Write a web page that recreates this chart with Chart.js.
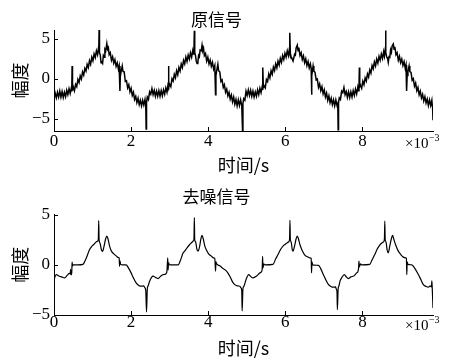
<!DOCTYPE html>
<html>
<head>
<meta charset="utf-8">
<script src="https://cdn.jsdelivr.net/npm/chart.js@4.4.1/dist/chart.umd.min.js"></script>
<style>
  html, body { margin: 0; padding: 0; background: #fff; }
  #wrap { position: relative; width: 455px; height: 362px; }
  .panel { position: absolute; left: 0; width: 455px; height: 181px; }
</style>
</head>
<body>
<div id="wrap">
  <div class="panel" style="top:0"><canvas id="c1" width="455" height="181"></canvas></div>
  <div class="panel" style="top:181px"><canvas id="c2" width="455" height="181"></canvas></div>
</div>
<script>
// ---- Data (time in units of 1e-3 s, amplitude) ----
const xTickValues = [0, 2, 4, 6, 8];
const yTickValues = [-5, 0, 5];
const topTitle = '原信号';
const bottomTitle = '去噪信号';
const xAxisLabel = '时间/s';
const yAxisLabel = '幅度';

const originalSignal = [
[0.00,-2.5],[0.03,-1.8],[0.06,-2.4],[0.09,-1.7],[0.12,-2.3],[0.15,-1.55],[0.18,-2.3],[0.21,-1.6],[0.24,-2.35],[0.27,-1.7],
[0.30,-2.25],[0.33,-1.45],[0.36,-2.0],[0.39,-1.25],[0.42,-1.85],[0.45,-1.15],[0.46,-1.6],[0.47,1.6],[0.48,-1.5],[0.50,-1.0],
[0.53,-1.5],[0.56,-0.7],[0.59,-1.0],[0.62,-0.1],[0.65,-0.5],[0.68,0.35],[0.71,-0.05],[0.74,0.85],[0.77,0.45],[0.80,1.3],
[0.83,0.95],[0.86,1.8],[0.89,1.4],[0.92,2.25],[0.95,1.8],[0.98,2.7],[1.01,2.25],[1.04,3.1],[1.07,2.65],[1.10,3.5],
[1.13,3.0],[1.15,3.7],[1.16,3.4],[1.17,6.1],[1.18,3.2],[1.20,3.0],[1.22,2.0],[1.24,2.05],[1.26,1.9],[1.28,2.9],
[1.30,2.7],[1.32,3.65],[1.34,3.45],[1.37,4.4],[1.39,3.7],[1.41,3.9],[1.43,3.0],[1.46,3.25],[1.49,2.3],[1.52,2.75],
[1.55,1.95],[1.58,2.4],[1.61,1.55],[1.64,2.0],[1.67,1.2],[1.69,1.6],[1.71,-1.55],[1.72,0.3],[1.74,0.9],[1.77,1.6],
[1.79,0.9],[1.82,0.85],[1.85,-0.35],[1.88,-0.25],[1.91,-1.15],[1.94,-0.75],[1.97,-1.65],[2.00,-1.2],[2.03,-2.1],[2.06,-1.7],
[2.09,-2.6],[2.12,-2.2],[2.15,-3.0],[2.18,-2.45],[2.21,-3.25],[2.24,-2.7],[2.27,-3.4],[2.30,-2.7],[2.33,-3.3],[2.36,-2.6],
[2.38,-3.3],[2.39,-6.3],[2.40,-3.0],[2.42,-2.3],[2.45,-2.6],[2.48,-1.65],[2.51,-1.95],[2.54,-1.25],[2.57,-2.0],[2.60,-1.45],
[2.63,-2.2],[2.66,-1.55],[2.69,-2.2],[2.72,-1.5],[2.75,-2.2],[2.78,-1.5],[2.81,-2.15],[2.84,-1.4],[2.87,-1.95],[2.90,-1.15],
[2.93,-1.7],[2.95,-1.0],[2.96,-1.3],[2.97,1.6],[2.98,-1.1],[3.00,-0.7],[3.03,-1.0],[3.06,0.0],[3.09,-0.3],[3.12,0.55],
[3.15,0.1],[3.18,1.0],[3.21,0.5],[3.24,1.4],[3.27,0.95],[3.30,1.85],[3.33,1.4],[3.36,2.3],[3.39,1.85],[3.42,2.7],
[3.45,2.15],[3.48,2.95],[3.51,2.45],[3.54,3.25],[3.57,2.7],[3.60,3.55],[3.62,3.1],[3.63,3.6],[3.64,6.0],[3.65,3.3],
[3.67,2.9],[3.69,2.2],[3.71,1.9],[3.73,2.0],[3.75,2.9],[3.77,2.75],[3.79,3.6],[3.82,3.5],[3.84,4.2],[3.86,3.5],
[3.88,3.75],[3.90,2.9],[3.93,3.15],[3.96,2.2],[3.99,2.7],[4.02,1.85],[4.05,2.35],[4.08,1.55],[4.11,2.05],[4.14,1.2],
[4.17,1.65],[4.19,-2.0],[4.20,0.4],[4.22,1.0],[4.25,1.8],[4.27,1.0],[4.30,0.85],[4.33,-0.35],[4.36,-0.15],[4.39,-1.1],
[4.42,-0.75],[4.45,-1.7],[4.48,-1.3],[4.51,-2.15],[4.54,-1.7],[4.57,-2.55],[4.60,-2.05],[4.63,-2.9],[4.66,-2.3],[4.69,-3.2],
[4.72,-2.6],[4.75,-3.4],[4.78,-2.65],[4.81,-3.35],[4.84,-2.65],[4.87,-3.4],[4.89,-6.5],[4.90,-3.1],[4.92,-2.5],[4.95,-2.7],
[4.98,-1.55],[5.01,-2.1],[5.04,-1.4],[5.07,-2.1],[5.10,-1.45],[5.13,-2.2],[5.16,-1.55],[5.19,-2.3],[5.22,-1.65],[5.25,-2.2],
[5.28,-1.4],[5.31,-2.0],[5.34,-1.2],[5.37,-1.75],[5.40,-1.0],[5.41,-1.4],[5.42,1.4],[5.43,-1.1],[5.45,-0.9],[5.48,-1.15],
[5.51,-0.1],[5.54,-0.35],[5.57,0.6],[5.60,0.1],[5.63,1.0],[5.66,0.55],[5.69,1.45],[5.72,1.0],[5.75,1.85],[5.78,1.35],
[5.81,2.2],[5.84,1.7],[5.87,2.55],[5.90,2.05],[5.93,2.9],[5.96,2.4],[5.99,3.2],[6.02,2.7],[6.05,3.5],[6.08,2.9],
[6.10,3.55],[6.11,3.2],[6.12,5.75],[6.13,3.2],[6.15,2.7],[6.17,2.55],[6.20,2.2],[6.22,2.2],[6.24,3.05],[6.26,2.95],
[6.28,3.85],[6.31,4.2],[6.33,3.5],[6.35,3.9],[6.38,2.9],[6.41,3.25],[6.44,2.4],[6.47,2.85],[6.50,2.0],[6.53,2.5],
[6.56,1.65],[6.59,2.15],[6.62,1.35],[6.65,1.85],[6.67,1.3],[6.68,-2.0],[6.69,0.4],[6.70,0.9],[6.72,1.6],[6.74,0.95],
[6.77,0.8],[6.80,-0.15],[6.83,-0.05],[6.86,-1.1],[6.89,-0.65],[6.92,-1.5],[6.95,-1.0],[6.98,-1.9],[7.01,-1.4],[7.04,-2.3],
[7.07,-1.8],[7.10,-2.7],[7.13,-2.15],[7.16,-3.0],[7.19,-2.45],[7.22,-3.25],[7.25,-2.65],[7.28,-3.4],[7.31,-2.65],[7.34,-3.35],
[7.36,-3.1],[7.37,-6.4],[7.38,-3.0],[7.40,-2.4],[7.43,-2.6],[7.46,-1.55],[7.49,-1.75],[7.52,-1.1],[7.55,-2.0],[7.58,-1.6],
[7.61,-2.35],[7.64,-1.65],[7.67,-2.35],[7.70,-1.65],[7.73,-2.3],[7.76,-1.5],[7.79,-2.1],[7.82,-1.3],[7.85,-1.9],[7.88,-1.05],
[7.90,-1.5],[7.91,-1.2],[7.92,1.4],[7.93,-1.0],[7.95,-0.8],[7.98,-1.2],[8.01,-0.3],[8.04,-0.75],[8.07,0.1],[8.10,-0.3],
[8.13,0.6],[8.16,0.2],[8.19,1.1],[8.22,0.7],[8.25,1.65],[8.28,1.25],[8.31,2.1],[8.34,1.6],[8.37,2.45],[8.40,1.95],
[8.43,2.8],[8.46,2.3],[8.49,3.1],[8.52,2.55],[8.55,3.4],[8.57,2.85],[8.59,3.6],[8.60,6.05],[8.61,3.3],[8.63,2.7],
[8.65,2.6],[8.67,2.05],[8.69,2.75],[8.71,2.7],[8.73,3.6],[8.75,3.3],[8.77,4.1],[8.80,4.35],[8.82,3.7],[8.84,4.0],
[8.87,3.0],[8.90,3.25],[8.93,2.3],[8.96,2.8],[8.99,2.0],[9.02,2.45],[9.05,1.65],[9.08,2.15],[9.11,1.3],[9.13,1.7],
[9.14,1.3],[9.15,-1.55],[9.16,0.4],[9.18,0.9],[9.21,1.6],[9.23,0.9],[9.26,0.8],[9.29,-0.2],[9.32,0.0],[9.35,-0.95],
[9.38,-0.55],[9.41,-1.5],[9.44,-1.1],[9.47,-2.0],[9.50,-1.55],[9.53,-2.4],[9.56,-1.95],[9.59,-2.8],[9.62,-2.25],[9.65,-3.05],
[9.68,-2.55],[9.71,-3.35],[9.74,-2.65],[9.77,-3.35],[9.80,-2.7],[9.81,-3.3],[9.82,-3.6],[9.83,-5.2]
];

const denoisedSignal = [
[0.00,-1.6],[0.02,-1.25],[0.06,-0.97],[0.10,-1.05],[0.14,-1.13],[0.20,-1.2],[0.27,-1.3],[0.32,-1.15],[0.36,-0.97],[0.40,-0.85],
[0.42,-0.88],[0.43,-0.45],[0.44,-1.0],[0.46,-0.8],[0.47,0.27],[0.48,-0.1],[0.50,0.0],[0.62,0.0],[0.75,0.05],[0.80,0.35],
[0.84,0.7],[0.88,1.1],[0.92,1.5],[0.98,1.85],[1.05,2.1],[1.10,2.3],[1.14,2.4],[1.15,2.6],[1.16,4.4],[1.17,2.5],
[1.19,2.2],[1.23,1.5],[1.26,1.35],[1.30,1.9],[1.34,2.6],[1.37,2.87],[1.40,2.6],[1.44,1.9],[1.49,1.37],[1.55,1.1],
[1.62,0.87],[1.67,0.72],[1.69,0.7],[1.70,-0.15],[1.71,0.4],[1.73,0.05],[1.78,0.0],[1.87,0.0],[1.93,-0.3],[2.00,-0.8],
[2.06,-1.3],[2.13,-1.8],[2.20,-2.05],[2.26,-2.13],[2.32,-2.1],[2.36,-2.3],[2.38,-2.6],[2.40,-4.7],[2.42,-2.4],[2.44,-2.1],
[2.48,-1.63],[2.53,-1.25],[2.57,-1.13],[2.63,-1.25],[2.70,-1.37],[2.76,-1.15],[2.83,-0.97],[2.88,-0.95],[2.91,-0.85],[2.93,-0.6],
[2.95,0.7],[2.96,-0.5],[2.97,0.2],[3.00,0.0],[3.22,0.0],[3.28,0.45],[3.35,1.2],[3.39,1.37],[3.45,1.7],[3.52,2.03],
[3.58,2.25],[3.61,2.37],[3.63,2.6],[3.64,4.7],[3.65,2.5],[3.67,2.3],[3.71,1.5],[3.74,1.37],[3.78,1.9],[3.81,2.6],
[3.84,2.93],[3.87,2.6],[3.91,1.9],[3.95,1.5],[4.01,1.1],[4.08,0.87],[4.14,0.7],[4.17,0.65],[4.19,-0.63],[4.20,0.3],
[4.22,0.1],[4.30,-0.1],[4.38,-0.35],[4.47,-0.6],[4.56,-1.13],[4.63,-1.7],[4.69,-1.97],[4.76,-2.1],[4.82,-2.13],[4.85,-2.3],
[4.87,-2.6],[4.88,-4.6],[4.90,-2.4],[4.93,-2.1],[4.98,-1.47],[5.05,-0.97],[5.10,-1.15],[5.16,-1.3],[5.25,-1.13],[5.34,-0.8],
[5.38,-0.7],[5.40,-0.4],[5.41,0.85],[5.42,-0.3],[5.44,0.1],[5.47,0.0],[5.68,0.05],[5.75,0.6],[5.81,1.03],[5.88,1.55],
[5.94,1.87],[6.00,2.05],[6.05,2.2],[6.09,2.3],[6.11,2.6],[6.12,4.43],[6.13,2.5],[6.15,2.3],[6.18,1.5],[6.20,1.37],
[6.24,1.9],[6.28,2.6],[6.31,2.87],[6.34,2.6],[6.38,2.0],[6.44,1.4],[6.51,0.95],[6.58,0.8],[6.64,0.7],[6.67,0.65],
[6.68,-0.8],[6.69,0.3],[6.71,0.0],[6.86,-0.05],[6.92,-0.4],[6.99,-1.0],[7.05,-1.5],[7.12,-1.97],[7.18,-2.15],[7.25,-2.23],
[7.30,-2.2],[7.32,-2.4],[7.34,-2.7],[7.35,-4.47],[7.37,-2.4],[7.39,-2.1],[7.42,-1.6],[7.46,-1.3],[7.53,-0.97],[7.58,-1.2],
[7.63,-1.37],[7.70,-1.2],[7.78,-1.1],[7.85,-0.8],[7.88,-0.7],[7.90,-0.3],[7.91,0.37],[7.92,-0.2],[7.95,0.1],[7.98,0.0],
[8.19,0.05],[8.25,0.5],[8.32,1.03],[8.38,1.55],[8.43,1.87],[8.51,2.2],[8.55,2.3],[8.57,2.6],[8.58,4.37],[8.59,2.5],
[8.61,2.3],[8.64,1.5],[8.67,1.2],[8.71,1.9],[8.75,2.6],[8.78,2.93],[8.81,2.6],[8.86,2.0],[8.93,1.37],[9.00,1.0],
[9.06,0.77],[9.12,0.7],[9.14,0.65],[9.15,-0.97],[9.16,0.3],[9.18,0.05],[9.28,0.0],[9.35,-0.3],[9.45,-0.97],[9.52,-1.5],
[9.58,-1.97],[9.65,-2.15],[9.71,-2.23],[9.76,-2.1],[9.79,-2.2],[9.80,-1.6],[9.81,-2.3],[9.83,-4.3]
];

// ---- Rendering ----
const SERIF = '"Liberation Serif", "Times New Roman", Times, serif';
const CJK = '"Noto Sans CJK SC", "Noto Sans CJK JP", sans-serif';
Chart.defaults.font.family = SERIF;
Chart.defaults.color = '#000';

function fmt(v) { return v < 0 ? '\u2212' + Math.abs(v) : String(v); }

const axisDecor = {
  id: 'axisDecor',
  afterDraw(chart, args, opts) {
    const {ctx, chartArea: a, scales: {x, y}} = chart;
    ctx.save();
    ctx.strokeStyle = '#000';
    ctx.lineWidth = 1;
    ctx.beginPath();
    xTickValues.forEach(v => {
      const px = Math.round(x.getPixelForValue(v)) + 0.5;
      ctx.moveTo(px, a.bottom); ctx.lineTo(px, a.bottom - 4);
    });
    yTickValues.forEach(v => {
      const py = Math.round(y.getPixelForValue(v)) + 0.5;
      ctx.moveTo(a.left, py); ctx.lineTo(a.left + 4, py);
    });
    ctx.stroke();
    ctx.fillStyle = '#000';
    ctx.textBaseline = 'alphabetic';
    ctx.textAlign = 'left';
    ctx.font = '15px ' + SERIF;
    const ex = a.right - 28, ey = a.bottom + opts.expY;
    ctx.fillText('\u00d710', ex, ey);
    const w = ctx.measureText('\u00d710').width;
    ctx.font = '10px ' + SERIF;
    ctx.fillText('\u22123', ex + w + 0.5, ey - 7);
    ctx.restore();
  }
};

function makeChart(id, points, cfg) {
  return new Chart(document.getElementById(id), {
    type: 'line',
    data: {
      datasets: [{
        data: points.map(p => ({x: p[0], y: p[1]})),
        borderColor: '#000',
        borderWidth: cfg.lineWidth,
        pointRadius: 0,
        fill: false,
        tension: 0,
        cubicInterpolationMode: cfg.mono ? 'monotone' : 'default'
      }]
    },
    options: {
      responsive: false,
      animation: false,
      events: [],
      layout: { padding: { left: 0, right: 22, top: 0, bottom: 0 } },
      plugins: {
        legend: { display: false },
        tooltip: { enabled: false },
        title: {
          display: true,
          text: cfg.title,
          color: '#000',
          font: { family: CJK, size: 17, weight: 'normal', lineHeight: 1.2 },
          padding: { top: cfg.titleTop, bottom: cfg.titleBottom }
        },
        axisDecor: { expY: cfg.expY }
      },
      scales: {
        x: {
          type: 'linear',
          min: 0,
          max: 9.83,
          afterBuildTicks: s => { s.ticks = xTickValues.map(v => ({value: v})); },
          afterFit: s => { s.height = cfg.xHeight; },
          ticks: { font: { family: SERIF, size: 17 }, padding: cfg.xTickPad, maxRotation: 0, color: '#000', callback: v => fmt(v) },
          grid: { display: true, drawOnChartArea: false, drawTicks: false },
          border: { display: true, color: '#000', width: 1 },
          title: {
            display: true, text: xAxisLabel, color: '#000',
            font: { family: CJK, size: 18, lineHeight: 1.2 },
            padding: { top: 0, bottom: cfg.xTitleBottom }
          }
        },
        y: {
          type: 'linear',
          min: cfg.yMin,
          max: cfg.yMax,
          afterBuildTicks: s => { s.ticks = yTickValues.map(v => ({value: v})); },
          afterFit: s => { s.width = 54; },
          ticks: { font: { family: SERIF, size: 17 }, padding: 4, color: '#000', callback: v => fmt(v) },
          grid: { display: true, drawOnChartArea: false, drawTicks: false },
          border: { display: true, color: '#000', width: 1 },
          title: {
            display: true, text: yAxisLabel, color: '#000',
            font: { family: CJK, size: 18, lineHeight: 1.2 },
            padding: { top: 9, bottom: 0 }
          }
        }
      }
    },
    plugins: [axisDecor]
  });
}

makeChart('c1', originalSignal, {
  title: topTitle, titleTop: 9.3, titleBottom: 0.3,
  yMin: -6.55, yMax: 6.1, xHeight: 50, xTickPad: 0, xTitleBottom: 5.2,
  expY: 17, lineWidth: 1.5, mono: false
});
makeChart('c2', denoisedSignal, {
  title: bottomTitle, titleTop: 5.8, titleBottom: 7.5,
  yMin: -5, yMax: 5, xHeight: 47, xTickPad: -3, xTitleBottom: 3.2,
  expY: 15, lineWidth: 1.2, mono: true
});
</script>
</body>
</html>
